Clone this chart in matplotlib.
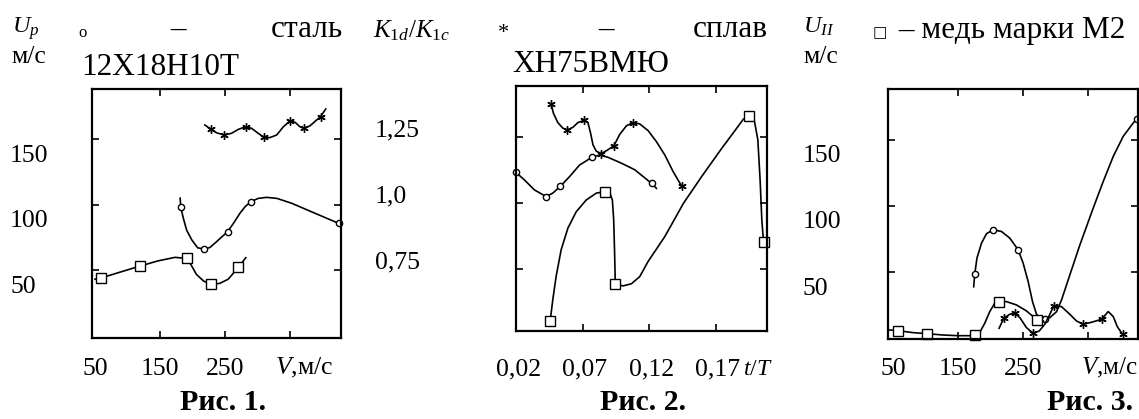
import matplotlib
matplotlib.use('Agg')
import matplotlib.pyplot as plt
from matplotlib.transforms import ScaledTranslation

plt.rcParams['font.family'] = 'Liberation Serif'
plt.rcParams['mathtext.fontset'] = 'custom'
plt.rcParams['mathtext.rm'] = 'Liberation Serif'
plt.rcParams['mathtext.it'] = 'Liberation Serif:italic'
plt.rcParams['mathtext.bf'] = 'Liberation Serif:bold'

# ---- Рис. 1: U_p vs V ----
# alloy ХН75ВМЮ (asterisks)
f1_alloy_v = [219, 228.5, 237, 249, 260, 270.5, 282, 291, 300, 310, 319, 329.5,
              340, 350, 358, 365, 371.5, 381, 391, 397, 405]
f1_alloy_u = [161, 157.6, 155, 153.3, 154.6, 157.6, 159.7, 158.4, 155, 151.5, 151.3,
              153.3, 159.7, 164, 163, 159.7, 158.4, 160.4, 164.8, 167.3, 173.2]
f1_alloy_pts = [1, 3, 6, 9, 13, 16, 19]
# steel 12Х18Н10Т (circles)
f1_steel_v = [181, 182, 186, 191, 199, 208, 218, 227, 237, 254, 263, 273, 281, 290,
              301, 314, 330, 353, 383, 425]
f1_steel_u = [105, 98, 89.5, 80.5, 73, 67, 66, 67.3, 71.7, 79.3, 85.7, 93.4, 98.5,
              102.3, 104.8, 105.6, 104.8, 101, 94.6, 85.7]
f1_steel_pts = [1, 6, 9, 13, 19]
# copper М2 (squares)
f1_copper_v = [50, 60, 86, 119, 147, 173, 191, 198, 206, 217, 228.5, 242, 255, 270.5, 282]
f1_copper_u = [43, 44, 48, 53, 57, 59.7, 58.9, 53.8, 46.7, 41.6, 39, 39.8, 43, 52, 59.4]
f1_copper_pts = [1, 3, 6, 10, 13]

# ---- Рис. 2: K1d/K1c vs t/T ----
f2_alloy_t = [0.0461, 0.0478, 0.0511, 0.0549, 0.0582, 0.0624, 0.0662, 0.0708, 0.0738,
              0.0758, 0.0776, 0.0801, 0.0839, 0.0884, 0.0934, 0.0977, 0.1028, 0.1078,
              0.1128, 0.1191, 0.1254, 0.1317, 0.1380, 0.1443]
f2_alloy_k = [1.373, 1.338, 1.303, 1.282, 1.275, 1.285, 1.303, 1.311, 1.303, 1.263,
              1.219, 1.195, 1.186, 1.199, 1.216, 1.258, 1.291, 1.303, 1.298, 1.273,
              1.231, 1.181, 1.118, 1.064]
f2_alloy_pts = [0, 4, 7, 12, 14, 17, 23]
f2_steel_t = [0.0196, 0.0259, 0.0335, 0.0423, 0.0473, 0.0529, 0.0599, 0.0675, 0.0768,
              0.0826, 0.0889, 0.0990, 0.1091, 0.1217, 0.1254]
f2_steel_k = [1.115, 1.087, 1.049, 1.024, 1.037, 1.062, 1.099, 1.143, 1.172, 1.181,
              1.172, 1.150, 1.125, 1.074, 1.055]
f2_steel_pts = [0, 3, 5, 8, 13]
f2_copper_t = [0.0453, 0.0473, 0.0498, 0.0536, 0.0587, 0.0650, 0.0725, 0.0801, 0.0869,
               0.0902, 0.0922, 0.0932, 0.0939, 0.0944, 0.1002, 0.1065, 0.1128, 0.1191,
               0.1317, 0.1458, 0.1594, 0.1746, 0.1846, 0.1909, 0.1952, 0.1993, 0.2018,
               0.2035, 0.2048, 0.2061]
f2_copper_k = [0.553, 0.634, 0.722, 0.823, 0.905, 0.967, 1.011, 1.037, 1.043, 1.039,
               1.011, 0.936, 0.810, 0.695, 0.687, 0.695, 0.722, 0.779, 0.873, 0.999,
               1.099, 1.206, 1.273, 1.316, 1.326, 1.307, 1.238, 1.087, 0.936, 0.852]
f2_copper_pts = [0, 8, 13, 24, 29]

# ---- Рис. 3: U_II vs V ----
f3_steel_v = [174, 175.6, 179, 186, 193.6, 204, 216.7, 229.5, 242.3, 250, 257.7, 264.4,
              270.5, 276.7, 283.3, 291, 301.3, 309, 321.8, 337.2, 357.7, 373.1, 388.5,
              403.8, 419.2, 424.4]
f3_steel_u = [39, 48.5, 60.6, 71.9, 79, 82, 80.7, 75.7, 66.9, 56.8, 42.9, 27.8, 18.3,
              15.2, 14.7, 15.7, 20.2, 29.1, 48, 70.6, 98.4, 118.5, 137.4, 152.5, 162.6,
              165.6]
f3_steel_pts = [1, 5, 8, 14, 25]
f3_copper_v = [44.9, 57.7, 80.8, 102.8, 127, 150, 168, 176.7, 183.3, 191, 198.7, 206.4,
               212.6, 224.4, 239.7, 255, 271.5, 281]
f3_copper_u = [6.4, 5.9, 4.4, 3.6, 2.6, 2.1, 2.1, 2.6, 4.6, 11.5, 20.3, 26.6, 27.8,
               27.8, 25.3, 20.8, 14, 13.2]
f3_copper_pts = [1, 3, 7, 12, 16]
f3_alloy_v = [213, 220.3, 229.5, 237.2, 245, 255, 265.4, 274.6, 283.3, 291, 297.2, 309,
              321.8, 332, 342.3, 355, 370.5, 380.8, 388.5, 394.6, 402.8]
f3_alloy_u = [7.7, 15.3, 18.3, 19, 15.7, 8.2, 3.9, 5.6, 10.7, 18.2, 24.8, 24, 18.2,
              13.2, 10.7, 12.2, 14.5, 20.3, 16.5, 9, 3.1]
f3_alloy_pts = [1, 3, 6, 10, 14, 16, 20]

v_labels = ['50', '150', '250']
v_values = [50, 150, 250]
u_values = [50, 100, 150]
u_labels = ['50', '100', '150']
t_values = [0.02, 0.07, 0.12, 0.17]
t_labels = ['0,02', '0,07', '0,12', '0,17']
k_values = [0.75, 1.0, 1.25]
k_labels = ['0,75', '1,0', '1,25']

W, H = 1139, 419
fig = plt.figure(figsize=(W / 100, H / 100), dpi=100)


def place(x, y, s, **kw):
    # x, y in pixels from the top-left corner
    fig.text(x / W, 1 - y / H, s, **kw)


def make_axes(left, top, right, bottom):
    return fig.add_axes([left / W, 1 - bottom / H, (right - left) / W, (bottom - top) / H])


def setup(ax, xlim, ylim, xvals, xlabs, yvals, ylabs, xmarks, ymarks, xpad, ypad):
    ax.set_xlim(xlim)
    ax.set_ylim(ylim)
    ax.set_xticks(xvals, xlabs)
    ax.set_yticks(yvals, ylabs)
    ax.set_xticks(xmarks, minor=True)
    ax.set_yticks(ymarks, minor=True)
    ax.xaxis.remove_overlapping_locs = False
    ax.yaxis.remove_overlapping_locs = False
    ax.tick_params(which='major', length=0, labelsize=18.5)
    ax.tick_params(axis='x', which='major', pad=xpad)
    ax.tick_params(axis='y', which='major', pad=ypad)
    ax.tick_params(which='minor', direction='in', length=5, width=1.2,
                   top=True, right=True, bottom=True, left=True)
    for sp in ax.spines.values():
        sp.set_linewidth(1.6)
    for lab in ax.get_yticklabels():
        lab.set_horizontalalignment('left')


def shift(labels, dx, dy):
    for lab in labels:
        lab.set_transform(lab.get_transform() + ScaledTranslation(dx / 100, -dy / 100, fig.dpi_scale_trans))


def curve(ax, x, y, marker, pts, ms):
    ax.plot(x, y, color='black', lw=1.2, marker=marker, markevery=pts, ms=ms,
            mfc='white', mec='black', mew=1.0, clip_on=False, solid_joinstyle='round')


star = (6, 2, 0)

# Рис. 1
ax1 = make_axes(92, 89, 341, 338)
setup(ax1, (45.4, 428.5), (-2, 188.5), v_values, v_labels, u_values, u_labels,
      [150, 250, 350], [50, 100, 150], 14.5, 59)
curve(ax1, f1_alloy_v, f1_alloy_u, star, f1_alloy_pts, 6)
curve(ax1, f1_steel_v, f1_steel_u, 'o', f1_steel_pts, 4.5)
curve(ax1, f1_copper_v, f1_copper_u, 's', f1_copper_pts, 6.5)
ax1.set_xlabel(r'$V$,м/с', fontsize=18.5, va='center')
ax1.xaxis.set_label_coords(0.851, -0.12)
shift(ax1.get_yticklabels(), 0, 14)

# Рис. 2
ax2 = make_axes(516, 86, 767, 331)
setup(ax2, (0.0196, 0.2087), (0.517, 1.441), t_values, t_labels, k_values, k_labels,
      [0.07, 0.12, 0.17], [0.75, 1.0, 1.25], 20, 101.5)
curve(ax2, f2_alloy_t, f2_alloy_k, star, f2_alloy_pts, 6)
curve(ax2, f2_steel_t, f2_steel_k, 'o', f2_steel_pts, 4.5)
curve(ax2, f2_copper_t, f2_copper_k, 's', f2_copper_pts, 6.5)
ax2.set_xlabel(r'$t/T$', fontsize=17, va='center')
ax2.xaxis.set_label_coords(0.965, -0.159)
shift(ax2.get_xticklabels(), 2, 0)
shift(ax2.get_yticklabels(), 0, -9)

# Рис. 3
ax3 = make_axes(888, 89, 1138, 339)
setup(ax3, (42.3, 426.5), (-0.4, 188.2), v_values, v_labels, u_values, u_labels,
      [150, 250, 350], [50, 100, 150], 14, 61.2)
curve(ax3, f3_steel_v, f3_steel_u, 'o', f3_steel_pts, 4.5)
curve(ax3, f3_copper_v, f3_copper_u, 's', f3_copper_pts, 6.5)
curve(ax3, f3_alloy_v, f3_alloy_u, star, f3_alloy_pts, 6)
ax3.set_xlabel(r'$V$,м/с', fontsize=18, va='center')
ax3.xaxis.set_label_coords(0.885, -0.116)
shift(ax3.get_yticklabels(), 0, 14)

# headers
place(12, 33, r'$U_p$', fontsize=17.5, va='baseline')
place(11, 63, 'м/с', fontsize=18.5, va='baseline')
place(78, 37, 'о', fontsize=12, va='baseline')
place(178, 37, '–', fontsize=22.5, va='baseline', ha='center')
place(343, 37, 'сталь', fontsize=22.5, va='baseline', ha='right')
place(81, 75, '12Х18Н10Т', fontsize=22.5, va='baseline')

place(373, 37, r'$K_{1d}/K_{1c}$', fontsize=18, va='baseline')
place(503, 38, '*', fontsize=16, va='baseline', ha='center')
place(606, 37, '–', fontsize=22.5, va='baseline', ha='center')
place(768, 37, 'сплав', fontsize=22.5, va='baseline', ha='right')
place(512, 72, 'ХН75ВМЮ', fontsize=22.5, va='baseline')

place(803, 33, r'$U_{II}$', fontsize=17.5, va='baseline')
place(803, 63, 'м/с', fontsize=18.5, va='baseline')
place(873, 37, '□', fontsize=11, va='baseline', family=['DejaVu Sans'])
place(898, 38, '– медь марки М2', fontsize=22.5, va='baseline')

# captions
for cx, cap in [(223, 'Рис. 1.'), (643, 'Рис. 2.'), (1090, 'Рис. 3.')]:
    place(cx, 402, cap, fontsize=21.5, fontweight='bold', ha='center', va='center')

fig.savefig('out.png', dpi=100)
